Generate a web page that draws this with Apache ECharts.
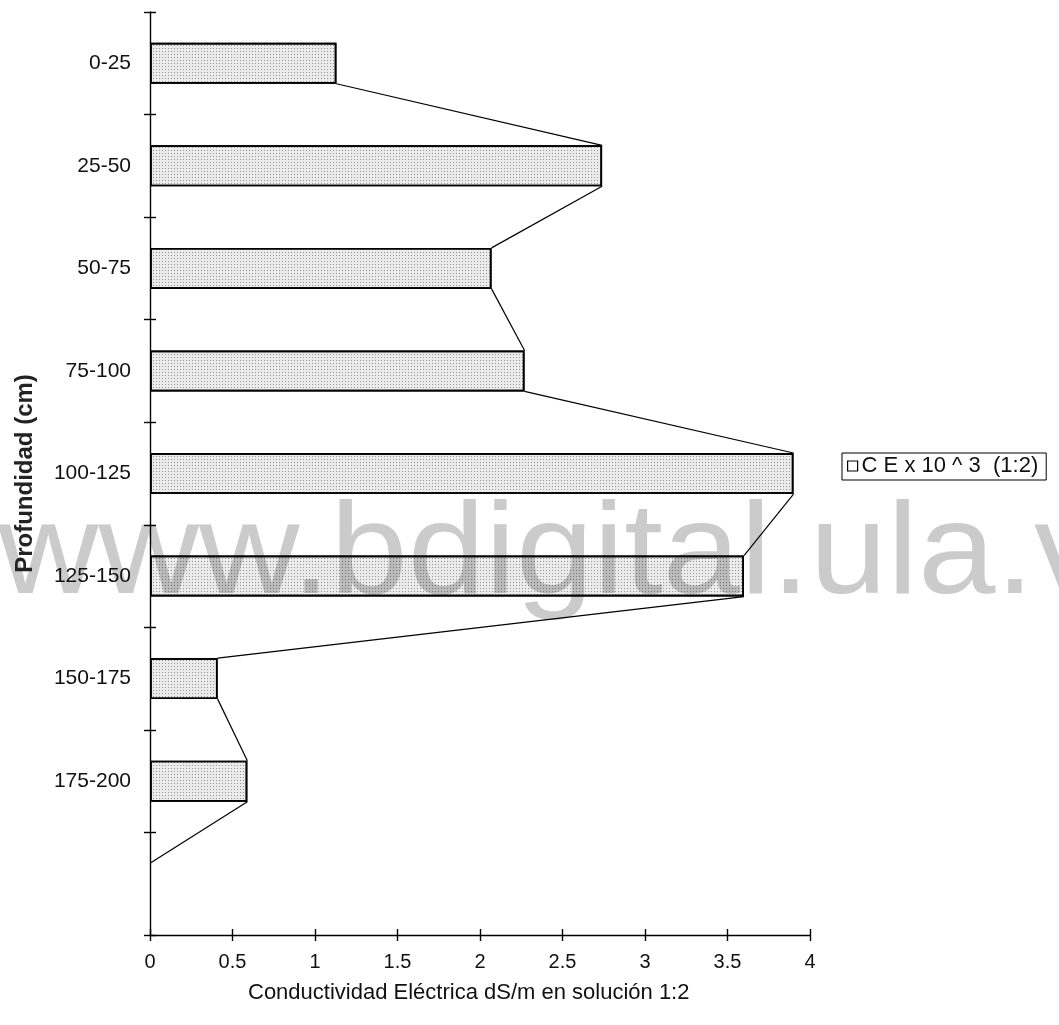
<!DOCTYPE html>
<html>
<head>
<meta charset="utf-8">
<script src="https://cdn.jsdelivr.net/npm/echarts@6/dist/echarts.min.js"></script>
<style>
  html, body { margin: 0; padding: 0; background: #ffffff; }
  #chart { width: 1059px; height: 1025px; }
</style>
</head>
<body>
<div id="chart"></div>
<script>
// Soil depth intervals (cm) and electrical conductivity of the 1:2 extract
const depthLabels = ['0-25', '25-50', '50-75', '75-100', '100-125', '125-150', '150-175', '175-200'];
const ceValues = [1.13, 2.74, 2.07, 2.27, 3.90, 3.60, 0.41, 0.59];
const seriesName = 'C E x 10 ^ 3  (1:2)';
const xTickLabels = ['0', '0.5', '1', '1.5', '2', '2.5', '3', '3.5', '4'];
const xTitle = 'Conductividad Eléctrica dS/m en solución 1:2';
const yTitle = 'Profundidad (cm)';
const watermark = 'www.bdigital.ula.ve';

// One empty slot below the deepest layer, where the profile line closes at zero
const categories = depthLabels.concat(['']);
const closingValue = 0;
const profileValues = ceValues.concat([closingValue]);

// Each segment joins the lower right corner of one bar to the upper right corner of the next
const connectorData = depthLabels.map((_, i) => [i, profileValues[i], profileValues[i + 1]]);

const FONT = '"Liberation Sans", Arial, sans-serif';
const BAR_RATIO = 0.4;

const chart = echarts.init(document.getElementById('chart'), null, { renderer: 'canvas' });

const xAxisBase = {
  type: 'value', min: 0, max: 4, interval: 0.5,
  splitLine: { show: false }
};
const yAxisBase = {
  type: 'category', data: categories, inverse: true,
  splitLine: { show: false }
};

chart.setOption({
  backgroundColor: '#ffffff',
  animation: false,
  textStyle: { fontFamily: FONT },
  grid: { left: 150, right: 249, top: 12, bottom: 90, containLabel: false },
  graphic: [
    {
      type: 'text', x: -2, y: 492, z: -5, silent: true, scaleX: 1.07,
      style: { text: watermark, fontFamily: FONT, fontSize: 130, fill: '#cbcbcb' }
    },
    {
      type: 'text', x: 248, y: 982, silent: true,
      style: { text: xTitle, fontFamily: FONT, fontSize: 22, fill: '#111' }
    }
  ],
  legend: {
    data: [{ name: seriesName, icon: 'rect', itemStyle: { color: '#ffffff', borderColor: '#000', borderWidth: 1.2, decal: 'none' } }],
    left: 842, top: 453,
    orient: 'vertical',
    itemWidth: 10, itemHeight: 10, itemGap: 0,
    padding: [2, 8, 3, 5],
    borderColor: '#000', borderWidth: 1,
    textStyle: { fontFamily: FONT, fontSize: 22, color: '#111', padding: [0, 0, 0, -1] }
  },
  xAxis: [
    Object.assign({}, xAxisBase, {
      position: 'bottom',
      axisLine: { show: true, lineStyle: { color: '#000', width: 1.4 } },
      axisTick: { show: true, inside: false, length: 6, lineStyle: { color: '#000', width: 1.4 } },
      axisLabel: {
        color: '#111', fontFamily: FONT, fontSize: 20, margin: 17,
        formatter: (v) => xTickLabels[Math.round(v / 0.5)]
      }
    }),
    Object.assign({}, xAxisBase, {
      position: 'bottom',
      axisLine: { show: false },
      axisTick: { show: true, inside: true, length: 6, lineStyle: { color: '#000', width: 1.4 } },
      axisLabel: { show: false }
    })
  ],
  yAxis: [
    Object.assign({}, yAxisBase, {
      position: 'left',
      name: yTitle, nameLocation: 'middle', nameGap: 113, nameRotate: 90,
      nameTextStyle: { fontFamily: FONT, fontSize: 24, fontWeight: 'bold', color: '#222' },
      axisLine: { show: true, lineStyle: { color: '#000', width: 1.4 } },
      axisTick: { show: true, inside: false, length: 6, lineStyle: { color: '#000', width: 1.4 } },
      axisLabel: { color: '#111', fontFamily: FONT, fontSize: 21, margin: 19 }
    }),
    Object.assign({}, yAxisBase, {
      position: 'left',
      axisLine: { show: false },
      axisTick: { show: true, inside: true, length: 6, lineStyle: { color: '#000', width: 1.4 } },
      axisLabel: { show: false }
    })
  ],
  series: [
    {
      name: seriesName,
      type: 'bar',
      xAxisIndex: 0, yAxisIndex: 0,
      data: ceValues,
      barWidth: (BAR_RATIO * 100) + '%',
      itemStyle: {
        color: 'rgba(0,0,0,0.08)',
        borderColor: '#000', borderWidth: 1.7,
        decal: {
          symbol: 'rect', symbolSize: 1,
          dashArrayX: [1, 2], dashArrayY: [1, 2],
          color: 'rgba(0,0,0,0.36)'
        }
      },
      emphasis: { disabled: true }
    },
    {
      name: 'perfil',
      type: 'custom',
      xAxisIndex: 0, yAxisIndex: 0,
      data: connectorData,
      encode: { x: [1, 2], y: 0 },
      z: 3,
      renderItem: function (params, api) {
        const i = api.value(0);
        const start = api.coord([api.value(1), i]);
        const end = api.coord([api.value(2), i + 1]);
        const half = api.size([0, 1])[1] * BAR_RATIO / 2;
        return {
          type: 'line',
          shape: { x1: start[0], y1: start[1] + half, x2: end[0], y2: end[1] - half },
          style: { stroke: '#000', lineWidth: 1.2 }
        };
      }
    }
  ]
});
</script>
</body>
</html>
